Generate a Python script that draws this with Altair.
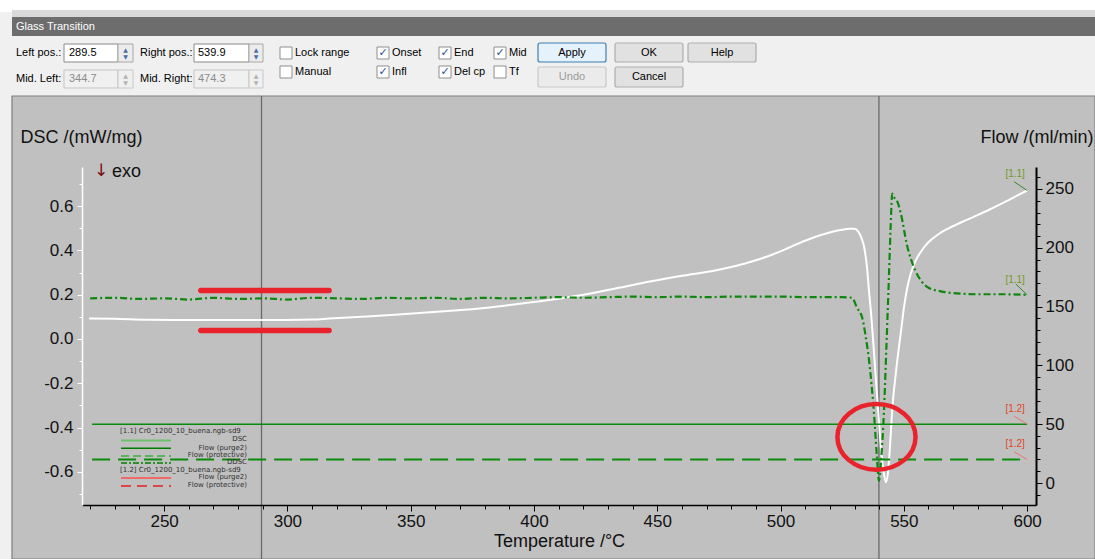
import altair as alt
import pandas as pd

# ---------------- data ----------------
dsc_temp = [219.6, 230, 244, 260, 280, 300, 310, 317, 330, 345, 365, 380, 395, 406, 420, 435,
            447, 460, 474, 480, 487, 494, 500, 507.5, 514, 521, 525, 528, 530, 531.5, 533.0, 533.9,
            535.0, 536.0, 536.7, 537.7, 538.7, 539.7, 540.7, 541.8, 542.8, 543.6, 544.3, 545.2,
            547.0, 548.9, 550.1, 551.2, 552.1, 553.5, 555.0, 557.0, 559.0, 561.6, 564.3, 568.3,
            575, 584.6, 592.7, 600]
dsc_value = [0.093, 0.091, 0.087, 0.086, 0.086, 0.086, 0.088, 0.092, 0.100, 0.110, 0.126, 0.140,
             0.160, 0.176, 0.200, 0.232, 0.259, 0.285, 0.310, 0.325, 0.345, 0.370, 0.395, 0.432,
             0.460, 0.484, 0.493, 0.497, 0.497, 0.485, 0.450, 0.415, 0.330, 0.200, 0.117, -0.030,
             -0.185, -0.340, -0.490, -0.600, -0.646, -0.600, -0.500, -0.334, -0.130, 0.040, 0.146,
             0.220, 0.266, 0.318, 0.358, 0.395, 0.425, 0.452, 0.475, 0.500, 0.535, 0.583, 0.628,
             0.670]

ddsc_temp = [220, 230, 240, 250, 260, 270, 280, 290, 300, 310, 320, 330, 340, 350, 360, 370, 380,
             390, 400, 410, 420, 430, 440, 450, 460, 470, 480, 490, 500, 510, 518, 525, 529, 531,
             533.1, 534.5, 535.9, 537.9, 539.0, 539.9, 540.8, 541.9, 543.0, 543.9, 544.6, 545.3,
             546.3, 547.2, 548.8, 551.2, 554.6, 557, 560, 565, 570, 580, 590, 600]
ddsc_flow = [157, 157.5, 156.5, 157, 156, 157.5, 156.5, 157, 156, 157.5, 157, 156.5, 157.5, 157,
             157.5, 156.5, 157.5, 157, 157.5, 158, 157.5, 158, 158.5, 158, 158.5, 158, 158.5, 158.5,
             158.5, 158, 158, 158, 157.5, 149, 140.7, 125, 104, 59, 25, 2, 20, 59, 120, 172, 215,
             246, 242, 240, 229, 203, 181, 172, 166, 163, 161.5, 160.5, 160.5, 160]

purge2_temp = [220.8, 600.0]
purge2_flow = [50.0, 50.0]
protective_temp = [220.8, 600.0]
protective_flow = [20.0, 20.0]

cursor_temp = [289.5, 539.9]

mark_temp_start = [264.9, 264.9]
mark_temp_end = [316.9, 316.9]
mark_flow = [163.6, 129.7]
circle_temp = [538.9]
circle_flow = [39.2]

tag_text = ["[1.1]", "[1.2]", "[1.2]"]
tag_color = ["#6f9a1f", "#e0452a", "#e0452a"]
tag_line_color = ["#2e8b2e", "#f07070", "#f07070"]
tag_temp = [600.0, 600.0, 600.0]
tag_flow = [160.0, 50.0, 20.0]
tag_temp_start = [595.4, 594.7, 594.7]
tag_flow_start = [169.2, 57.0, 26.6]
dsc_tag_temp = [600.0]
dsc_tag_value = [0.67]
dsc_tag_temp_start = [594.7]
dsc_tag_value_start = [0.71]

x_ticks = list(range(220, 601, 10))
dsc_ticks = [-0.7, -0.6, -0.5, -0.4, -0.3, -0.2, -0.1, 0.0, 0.1, 0.2, 0.3, 0.4, 0.5, 0.6, 0.7]
flow_ticks = list(range(-10, 261, 10))

legend_texts = ["[1.1] Cr0_1200_10_buena.ngb-sd9", "DSC", "Flow (purge2)", "Flow (protective)",
                "DDSC", "[1.2] Cr0_1200_10_buena.ngb-sd9", "Flow (purge2)", "Flow (protective)"]

# ---------------- layout ----------------
PL, PT, W, H = 82, 167, 954, 338
FONT = "Liberation Sans"
dummy = pd.DataFrame({"k": [0]})


def px(x):
    return x - PL


def py(y):
    return y - PT


def box(x1, y1, x2, y2, fill, stroke="", sw=1.0, radius=0):
    kw = dict(fill=fill)
    if stroke:
        kw.update(stroke=stroke, strokeWidth=sw)
    if radius:
        kw["cornerRadius"] = radius
    return alt.Chart(dummy).mark_rect(**kw).encode(
        x=alt.value(px(x1)), x2=alt.value(px(x2)), y=alt.value(py(y1)), y2=alt.value(py(y2)))


def label(x, y, s, size=11, color="#000000", align="left", font=FONT):
    return alt.Chart(dummy).mark_text(text=s, align=align, baseline="middle", fontSize=size,
                                      color=color, font=font).encode(
        x=alt.value(px(x)), y=alt.value(py(y)))


def seg(x1, x2, y, color, width, dash=None):
    kw = dict(color=color, strokeWidth=width)
    if dash:
        kw["strokeDash"] = dash
    return alt.Chart(dummy).mark_rule(**kw).encode(
        x=alt.value(px(x1)), x2=alt.value(px(x2)), y=alt.value(py(y)))


# ---------------- scales & axes ----------------
XS = alt.Scale(domain=[216.7, 603.6], nice=False, zero=False)
XA = alt.Axis(values=x_ticks, labelExpr="datum.value % 50 === 0 ? datum.label : ''",
              tickSize={"condition": {"test": "datum.value % 50 === 0", "value": 6}, "value": 4},
              tickColor="#000000", domainColor="#000000", domainWidth=1.5, grid=False,
              labelFont=FONT, labelFontSize=17, labelColor="#111111", labelPadding=2,
              labelOverlap=False, labelFlush=False,
              title="Temperature /°C", titleFont=FONT, titleFontSize=18, titleFontWeight="normal",
              titleColor="#111111", titleY=36, titleBaseline="middle", zindex=1)

YLS = alt.Scale(domain=[-0.749, 0.776], nice=False, zero=False)
YLA = alt.Axis(orient="left", values=dsc_ticks,
               labelExpr="abs(round(datum.value*10)) % 2 === 0 ? replace(format(datum.value, '.1f'), '\u2212', '-') : ''",
               tickSize={"condition": {"test": "abs(round(datum.value*10)) % 2 === 0", "value": 5}, "value": 3},
               tickColor="#ffffff", domainColor="#ffffff", domainWidth=1.5, grid=False,
               labelFont=FONT, labelFontSize=17, labelColor="#111111", labelPadding=4,
               labelOverlap=False, labelFlush=False,
               title="DSC /(mW/mg)", titleFont=FONT, titleFontSize=18, titleFontWeight="normal",
               titleColor="#111111", titleAngle=0, titleAlign="left", titleBaseline="middle",
               titleX=-62, titleY=-30, zindex=1)

YRS = alt.Scale(domain=[-18.7, 268.7], nice=False, zero=False)
YRA = alt.Axis(orient="right", values=flow_ticks,
               labelExpr="datum.value % 50 === 0 ? datum.label : ''",
               tickSize={"condition": {"test": "datum.value % 50 === 0", "value": 6}, "value": 4},
               tickColor="#000000", domainColor="#000000", domainWidth=2, grid=False,
               labelFont=FONT, labelFontSize=17, labelColor="#111111", labelPadding=3,
               labelOverlap=False, labelFlush=False,
               title="Flow /(ml/min)", titleFont=FONT, titleFontSize=18, titleFontWeight="normal",
               titleColor="#111111", titleAngle=0, titleAlign="right", titleBaseline="middle",
               titleX=57, titleY=-30, zindex=1)


def X(f="T"):
    return alt.X(f"{f}:Q", scale=XS, axis=XA)


def YL(f="v"):
    return alt.Y(f"{f}:Q", scale=YLS, axis=YLA)


def YR(f="f"):
    return alt.Y(f"{f}:Q", scale=YRS, axis=YRA)


# ---------------- window decoration ----------------
deco = [
    box(0, 0, 1095, 12, "#ffffff"),
    box(12, 10, 1095, 17, "#dadada"),
    box(12, 17, 1095, 36, "#6d6d6d"),
    label(16, 27, "Glass Transition", 11, "#ffffff"),
    box(12, 36, 1095, 96, "#f0f0f0"),
    label(16, 53, "Left pos.:"),
    box(64, 44, 118, 62, "#ffffff", "#8a8a8a"),
    label(69, 53, "289.5"),
    box(118, 44, 133, 62, "#ececec", "#a8a8a8"),
    label(125.5, 49.5, "▲", 6, "#4a6fa5", "center", "DejaVu Sans"),
    label(125.5, 57, "▼", 6, "#4a6fa5", "center", "DejaVu Sans"),
    label(140, 53, "Right pos.:"),
    box(194, 44, 249, 62, "#ffffff", "#8a8a8a"),
    label(198, 53, "539.9"),
    box(249, 44, 263, 62, "#ececec", "#a8a8a8"),
    label(256, 49.5, "▲", 6, "#4a6fa5", "center", "DejaVu Sans"),
    label(256, 57, "▼", 6, "#4a6fa5", "center", "DejaVu Sans"),
    label(16, 79, "Mid. Left:"),
    box(64, 70, 118, 88, "#f0f0f0", "#c4c4c4"),
    label(69, 79, "344.7", 11, "#8c8c8c"),
    box(118, 70, 133, 88, "#f0f0f0", "#c8c8c8"),
    label(125.5, 75.5, "▲", 6, "#b0b0b0", "center", "DejaVu Sans"),
    label(125.5, 83, "▼", 6, "#b0b0b0", "center", "DejaVu Sans"),
    label(140, 79, "Mid. Right:"),
    box(194, 70, 249, 88, "#f0f0f0", "#c4c4c4"),
    label(198, 79, "474.3", 11, "#8c8c8c"),
    box(249, 70, 263, 88, "#f0f0f0", "#c8c8c8"),
    label(256, 75.5, "▲", 6, "#b0b0b0", "center", "DejaVu Sans"),
    label(256, 83, "▼", 6, "#b0b0b0", "center", "DejaVu Sans"),
]
checks = [(280, 53, "Lock range", False), (280, 72, "Manual", False),
          (377, 53, "Onset", True), (377, 72, "Infl", True),
          (439, 53, "End", True), (439, 72, "Del cp", True),
          (494, 53, "Mid", True), (494, 72, "Tf", False)]
for cx, cy, txt, on in checks:
    deco.append(box(cx, cy - 6, cx + 12, cy + 6, "#ffffff", "#8e8f8f"))
    if on:
        deco.append(label(cx + 6, cy, "✓", 11, "#2a4a9a", "center", "DejaVu Sans"))
    deco.append(label(cx + 15, cy, txt))
buttons = [(538, 43, 606, 62, "Apply", "#e5f1fb", "#3c7fb1", "#000000"),
           (615, 43, 683, 62, "OK", "#e1e1e1", "#adadad", "#000000"),
           (688, 43, 756, 62, "Help", "#e1e1e1", "#adadad", "#000000"),
           (538, 67, 606, 87, "Undo", "#ebebeb", "#c8c8c8", "#9a9a9a"),
           (615, 67, 683, 87, "Cancel", "#e1e1e1", "#adadad", "#000000")]
for bx1, by1, bx2, by2, txt, fill, stroke, tcol in buttons:
    deco.append(box(bx1, by1, bx2, by2, fill, stroke, 1.2, 2))
    deco.append(label((bx1 + bx2) / 2, (by1 + by2) / 2, txt, 11, tcol, "center"))

deco.append(box(12, 96, 1095, 559, "#c0c0c0", "#7e7e7e", 1.2))

# ---------------- left (DSC) group ----------------
dsc_df = pd.DataFrame({"T": dsc_temp, "v": dsc_value})
cursor_df = pd.DataFrame({"T": cursor_temp})
dsc_tag_df = pd.DataFrame({"T": dsc_tag_temp, "v": dsc_tag_value,
                           "Ts": dsc_tag_temp_start, "vs": dsc_tag_value_start})

cursor = alt.Chart(cursor_df).mark_rule(color="#6a6a6a", strokeWidth=1.3).encode(
    x=X("T"), y=alt.value(py(96)), y2=alt.value(py(559)))
dsc_line = alt.Chart(dsc_df).mark_line(color="#ffffff", strokeWidth=2, interpolate="monotone").encode(
    x=X("T"), y=YL("v"))
dsc_tag_line = alt.Chart(dsc_tag_df).mark_rule(color="#2e8b2e", strokeWidth=1).encode(
    x=X("Ts"), x2="T", y=YL("vs"), y2="v")
dsc_tag_text = alt.Chart(dsc_tag_df).mark_text(text="[1.1]", color="#6f9a1f", fontSize=10, font=FONT,
                                               dx=-12, dy=-16).encode(x=X("T"), y=YL("v"))

left = alt.layer(*deco, cursor, dsc_line, dsc_tag_line, dsc_tag_text)

# ---------------- right (Flow) group ----------------
ddsc_df = pd.DataFrame({"T": ddsc_temp, "f": ddsc_flow})
purge_df = pd.DataFrame({"T": purge2_temp, "f": purge2_flow})
prot_df = pd.DataFrame({"T": protective_temp, "f": protective_flow})
mark_df = pd.DataFrame({"T": mark_temp_start, "T2": mark_temp_end, "f": mark_flow})
circle_df = pd.DataFrame({"T": circle_temp, "f": circle_flow})
tag_df = pd.DataFrame({"T": tag_temp, "f": tag_flow, "Ts": tag_temp_start, "fs": tag_flow_start,
                       "txt": tag_text, "c": tag_color, "lc": tag_line_color})

purge_line = alt.Chart(purge_df).mark_line(color="#0a8a0a", strokeWidth=1.6).encode(x=X("T"), y=YR("f"))
prot_line = alt.Chart(prot_df).mark_line(color="#0a8a0a", strokeWidth=1.8, strokeDash=[18, 8]).encode(
    x=X("T"), y=YR("f"))
ddsc_line = alt.Chart(ddsc_df).mark_line(color="#0f870f", strokeWidth=2.2, strokeDash=[7, 3, 2, 3],
                                         interpolate="monotone").encode(x=X("T"), y=YR("f"))
tag_lines = alt.Chart(tag_df).mark_rule(strokeWidth=1).encode(
    x=X("Ts"), x2="T", y=YR("fs"), y2="f", color=alt.Color("lc:N", scale=None))
tag_texts = alt.Chart(tag_df).mark_text(fontSize=10, font=FONT, dx=-12, dy=-15).encode(
    x=X("T"), y=YR("f"), text="txt:N", color=alt.Color("c:N", scale=None))

LF = 7
LFONT = "DejaVu Sans"
legend = [
    label(120, 431, legend_texts[0], LF, "#303030", "left", LFONT),
    seg(121, 171, 440.5, "#6cc06c", 2),
    label(247, 439, legend_texts[1], LF, "#303030", "right", LFONT),
    seg(121, 171, 448.3, "#007a00", 1.5),
    label(247, 447.5, legend_texts[2], LF, "#303030", "right", LFONT),
    seg(121, 171, 456, "#5fb05f", 2, [8, 4]),
    label(247, 455, legend_texts[3], LF, "#303030", "right", LFONT),
    seg(121, 171, 463, "#008000", 1.5, [6, 2, 2, 2]),
    label(247, 462.3, legend_texts[4], LF, "#303030", "right", LFONT),
    label(120, 469.5, legend_texts[5], LF, "#303030", "left", LFONT),
    seg(121, 171, 478, "#f06a6a", 2),
    label(247, 477, legend_texts[6], LF, "#303030", "right", LFONT),
    seg(121, 171, 486, "#e02020", 1.5, [10, 6]),
    label(247, 485, legend_texts[7], LF, "#303030", "right", LFONT),
    label(101, 171, "↓", 17, "#7a1010", "center", "DejaVu Sans"),
    label(112, 172, "exo", 18, "#111111"),
]

red_marks = alt.Chart(mark_df).mark_rule(color="#e8232b", strokeWidth=5.5, strokeCap="round").encode(
    x=X("T"), x2="T2", y=YR("f"))
red_circle = alt.Chart(circle_df).mark_point(
    shape="M-1,0A1,0.84,0,1,1,1,0A1,0.84,0,1,1,-1,0Z", size=6100, filled=False,
    color="#e8232b", strokeWidth=4.5, opacity=1).encode(x=X("T"), y=YR("f"))

right = alt.layer(ddsc_line, purge_line, prot_line, tag_lines, tag_texts, *legend, red_marks, red_circle)

chart = alt.layer(left, right).resolve_scale(y="independent").properties(
    width=W, height=H, background="#f0f0f0",
    padding={"left": PL, "top": PT, "right": 1095 - PL - W, "bottom": 559 - PT - H},
    autosize=alt.AutoSizeParams(type="none"),
).configure_view(stroke=None)

chart.save("out.html", embed_options={"renderer": "svg", "actions": False})
